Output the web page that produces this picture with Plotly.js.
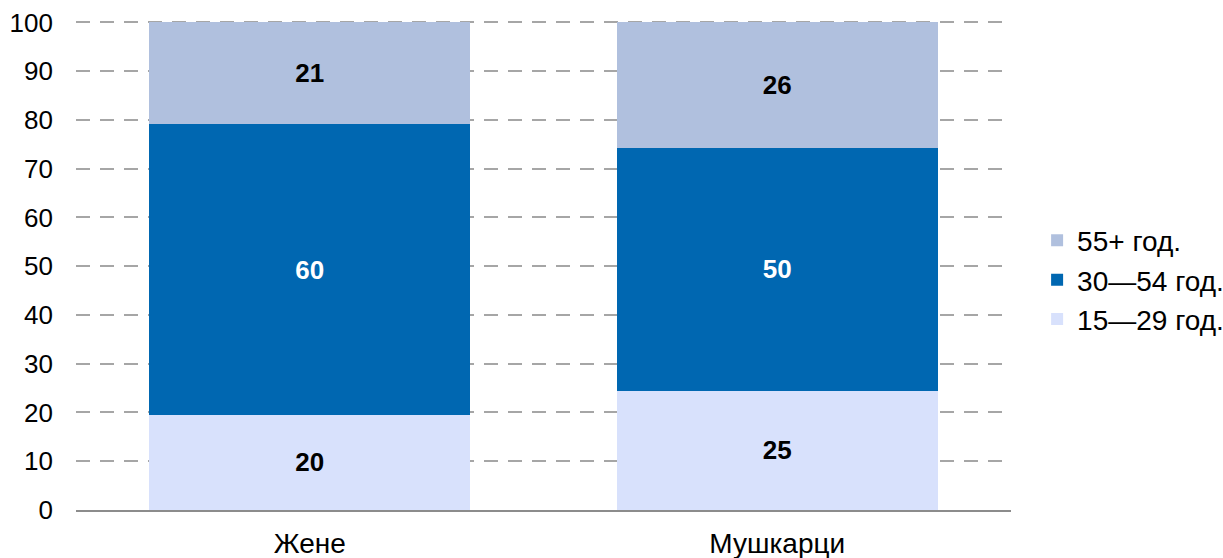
<!DOCTYPE html>
<html><head><meta charset="utf-8">
<script src="https://cdn.plot.ly/plotly-3.0.1.min.js"></script>
<style>html,body{margin:0;padding:0;background:#fff}#chart{width:1223px;height:558px}</style>
</head><body><div id="chart"></div>
<script>
const categories = ["Жене", "Мушкарци"];
const legendNames = ["15\u201429 год.", "30\u201454 год.", "55+ год."];
const young = [19.5, 24.5];
const middle = [59.6, 49.7];
const older = [20.9, 25.8];
const youngLabels = ["20", "25"];
const middleLabels = ["60", "50"];
const olderLabels = ["21", "26"];
const yTicks = [0,10,20,30,40,50,60,70,80,90,100];

const colors = ["#D8E1FC", "#0067B1", "#B0C0DE"];
const textColors = ["#000000", "#ffffff", "#000000"];
const vals = [young, middle, older];
const labs = [youngLabels, middleLabels, olderLabels];

const traces = vals.map((v, i) => ({
  type: 'bar',
  x: categories,
  y: v,
  name: legendNames[i],
  text: labs[i],
  texttemplate: '%{text}',
  textposition: 'inside',
  insidetextanchor: 'middle',
  textangle: 0,
  constraintext: 'none',
  textfont: {family: 'Liberation Sans, Arial, sans-serif', size: 26, color: textColors[i], weight: 'bold'},
  marker: {color: colors[i], line: {width: 0}},
  hoverinfo: 'skip'
}));

const layout = {
  width: 1223, height: 558,
  margin: {l: 76, r: 212, t: 20, b: 48, autoexpand: false},
  paper_bgcolor: '#fff', plot_bgcolor: '#fff',
  barmode: 'stack',
  bargap: 0.313,
  font: {family: 'Liberation Sans, Arial, sans-serif', size: 26, color: '#000'},
  xaxis: {
    type: 'category',
    showgrid: false,
    showline: true, linecolor: '#8c8c8c', linewidth: 2,
    ticks: '', tickfont: {size: 28},
    ticklabelstandoff: 7,
    range: [-0.5, 1.5]
  },
  yaxis: {
    range: [0, 100.5],
    tickvals: yTicks,
    showgrid: true, gridcolor: '#a6a6a6', gridwidth: 2, griddash: '14px,10px',
    zeroline: false, showline: false, ticks: '',
    ticklabelstandoff: 22,
    tickfont: {size: 26}
  },
  legend: {
    xref: 'container', yref: 'container',
    x: 0.848, y: 0.498, xanchor: 'left', yanchor: 'middle',
    traceorder: 'reversed',
    font: {size: 28},
    itemwidth: 30,
    tracegroupgap: 0
  },
  showlegend: true
};

Plotly.newPlot('chart', traces, layout, {displayModeBar: false, staticPlot: true});
</script></body></html>
